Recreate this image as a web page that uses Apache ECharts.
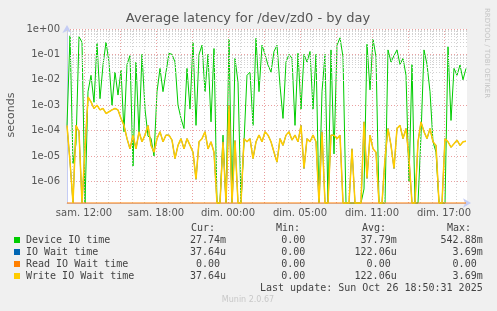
<!DOCTYPE html>
<html><head><meta charset="utf-8">
<script src="https://cdn.jsdelivr.net/npm/echarts@6/dist/echarts.min.js"></script>
<style>html,body{margin:0;padding:0;background:#f0f0f0;}#c{width:497px;height:311px;}</style>
</head><body><div id="c"></div>
<script>
// time of first sample, hours since Saturday 00:00 (elapsed real time), step 15 min
const T0 = 10 + 35 / 60;
const STEP = 0.25;
const SPAN = 400 / 12; // hours shown

const deviceIO = [
1.6e-4,0.54,5e-6,3e-5,0.5,0.3,0,3.4e-3,0.015,1.3e-3,
0.27,1.8e-3,0.038,0.3,0.05,1e-3,0.02,2.5e-3,0.024,9e-5,
0.04,0.09,4e-6,0.05,7e-5,0.1,7e-4,6e-5,5e-5,1e-5,
3.4e-3,0.028,3.4e-3,0.02,0.11,0.1,0.05,1e-3,3e-4,1.2e-4,
0.028,7e-4,0.3,1.6e-4,0.1,0.23,3.4e-3,0.1,2.2e-4,0.17,
0,0,6.6e-5,0,0.4,0,0.07,8e-3,0,3.6e-5,
0.015,0.02,1.6e-4,0.43,3.4e-3,0.23,0.1,0.038,0.02,0.13,
0.23,6e-3,3e-4,0.05,0.1,0.07,1.6e-4,0.11,7e-4,0.1,
0.05,0.13,7e-4,0.1,0,3.4e-3,0.1,0,0.15,1.2e-5,
0.23,0.45,0.08,0,0,0,0,0,0,5e-7,
0.25,4e-3,0.4,0.08,0,0,0,0.15,0.05,0.09,
0.15,0.04,0.07,0.015,1e-6,0.04,0,0,6.6e-5,0.15,
0.04,3.4e-3,3.6e-5,1.4e-5,0,0,0,0.2,2.5e-4,0.028,
0.015,0.038,0.01,0.028
];
const writeWait = [
1.6e-4,6e-6,0,1.6e-4,9e-5,0,1.9e-5,2.1e-3,1.35e-3,7.4e-4,
1e-3,6.5e-4,7.4e-4,4.7e-4,5.5e-4,6.5e-4,7.4e-4,6.5e-4,3e-4,1.6e-4,
4.8e-5,1.9e-5,6.6e-5,1.9e-5,9e-5,3.6e-5,6.6e-5,1.6e-4,2.6e-5,1.4e-5,
4.8e-5,9e-5,3.6e-5,6.6e-5,6.6e-5,4.2e-5,7.9e-6,2.6e-5,4.8e-5,1.9e-5,
4.8e-5,2.6e-5,1.4e-5,1.2e-6,3.6e-5,4.8e-5,9e-5,1.9e-5,3.6e-5,1.4e-5,
0,0,3.6e-5,0,1e-3,0,4e-5,0,0,4.8e-5,
3.6e-5,4.8e-5,7.9e-6,3.6e-5,6.6e-5,3.6e-5,9e-5,6.6e-5,3.6e-5,1.4e-5,
5.7e-6,4.8e-5,2.6e-5,6.6e-5,9e-5,4.2e-5,6.6e-5,3.6e-5,1.6e-4,3.2e-6,
4.8e-5,3.6e-5,6.6e-5,3.6e-5,0,9e-5,0,0,6.6e-5,6.6e-5,
4.8e-5,6.6e-5,0,0,0,1.9e-5,0,0,0,2.2e-4,
1.3e-6,6.6e-5,1.9e-5,1.4e-5,0,0,7.9e-6,1.2e-4,2.6e-5,3.2e-6,
1.2e-4,1.6e-4,4.8e-5,1.2e-4,7.9e-6,0,0,3.6e-5,2.2e-4,9e-5,
4.8e-5,1.2e-4,3.6e-5,2.6e-5,0,0,4.8e-5,3.6e-5,2.2e-5,3e-5,
4.2e-5,2.6e-5,3.6e-5,3.8e-5
];
const ioWait = writeWait.slice();           // identical to write wait in the source
const readWait = writeWait.map(() => 0);     // all zero (max 0.00)

const tickValues = [12, 18, 24, 30, 36, 42];
const tickLabels = ['sam. 12:00', 'sam. 18:00', 'dim. 00:00', 'dim. 05:00', 'dim. 11:00', 'dim. 17:00'];

const seriesNames = ['Device IO time', 'IO Wait time', 'Read IO Wait time', 'Write IO Wait time'];
const seriesColors = ['#00cc00', '#0066b3', '#ff8000', '#ffcc00'];
const curVals = ['27.74m', '37.64u', '0.00', '37.64u'];
const minVals = ['0.00', '0.00', '0.00', '0.00'];
const avgVals = ['37.79m', '122.06u', '0.00', '122.06u'];
const maxVals = ['542.88m', '3.69m', '0.00', '3.69m'];

const Y_MIN = 1.4e-7, Y_MAX = 1;

function toPairs(arr) {
  return arr.map((v, i) => [T0 + i * STEP, v > 0 ? v : Y_MIN]);
}

const chart = echarts.init(document.getElementById('c'), null, {renderer: 'canvas'});

// grid lines
const gridMarks = [];
for (let e = -7; e <= -1; e++) {
  for (let k = 2; k <= 9; k++) {
    const v = k * Math.pow(10, e);
    if (v > Y_MIN && v < Y_MAX) gridMarks.push({yAxis: v, lineStyle: {color: '#d2d2d2'}});
  }
}
for (let h = Math.ceil(T0); h < T0 + SPAN; h++) {
  gridMarks.push({xAxis: h, lineStyle: {color: h % 3 === 0 ? '#eaa0a0' : '#d2d2d2'}});
}

const MONO = '"DejaVu Sans Mono", monospace';
const SANS = '"DejaVu Sans", sans-serif';
const graphics = [];
function txt(t, x, y, opt) {
  graphics.push({type: 'text', x: x, y: y, rotation: opt.rot || 0, silent: true, z: 100,
    style: {text: t, fill: opt.fill || '#444', font: opt.font || ('10px ' + MONO),
      textAlign: opt.align || 'left', textVerticalAlign: 'middle'}});
}
txt('Average latency for /dev/zd0 - by day', 248, 19, {font: '13px ' + SANS, fill: '#555', align: 'center'});
txt('seconds', 11, 115, {font: '11px ' + SANS, fill: '#555', align: 'center', rot: Math.PI / 2});
txt('RRDTOOL / TOBI OETIKER', 487, 53, {font: '7px ' + SANS, fill: '#c4c4c4', align: 'center', rot: -Math.PI / 2});
txt('Cur:', 191, 228, {});
txt('Min:', 276, 228, {});
txt('Avg:', 362, 228, {});
txt('Max:', 447, 228, {});
const CH = 6.02;
function rt(v, edge) { return /[0-9]$/.test(v) ? edge - CH : edge; }
const rowY = [240, 252, 264, 276];
seriesNames.forEach((n, i) => {
  graphics.push({type: 'rect', shape: {x: 14, y: rowY[i] - 3, width: 6, height: 6}, style: {fill: seriesColors[i]}, silent: true, z: 100});
  txt(n, 26, rowY[i], {});
  txt(curVals[i], rt(curVals[i], 226), rowY[i], {align: 'right'});
  txt(minVals[i], rt(minVals[i], 311.3), rowY[i], {align: 'right'});
  txt(avgVals[i], rt(avgVals[i], 396.7), rowY[i], {align: 'right'});
  txt(maxVals[i], rt(maxVals[i], 482.7), rowY[i], {align: 'right'});
});
txt('Last update: Sun Oct 26 18:50:31 2025', 482.7, 288, {align: 'right'});
txt('Munin 2.0.67', 248, 300, {font: '8px ' + SANS, fill: '#c8c8c8', align: 'center'});

const axisBlue = '#c4ccf4';
const lineWidths = [1, 1, 1, 1.5];
const option = {
  animation: false,
  backgroundColor: '#f0f0f0',
  grid: {left: 67, top: 29, width: 400, height: 174, show: true, backgroundColor: '#ffffff', borderWidth: 0, containLabel: false, outerBoundsMode: 'none'},
  xAxis: {
    type: 'value', min: T0, max: T0 + SPAN,
    axisLine: {show: true, lineStyle: {color: axisBlue, width: 1}, symbol: ['none', 'arrow'], symbolSize: [7, 8], symbolOffset: [0, 4]},
    axisTick: {show: false},
    splitLine: {show: false},
    axisLabel: {
      customValues: tickValues, color: '#555', fontSize: 10, fontFamily: 'DejaVu Sans', margin: 5,
      formatter: v => { const i = tickValues.findIndex(t => Math.abs(t - v) < 1e-6); return i < 0 ? '' : tickLabels[i]; }
    }
  },
  yAxis: {
    type: 'log', logBase: 10, min: Y_MIN, max: Y_MAX,
    axisLine: {show: true, lineStyle: {color: axisBlue, width: 1}, symbol: ['none', 'arrow'], symbolSize: [7, 8], symbolOffset: [0, 4]},
    axisTick: {show: false},
    splitLine: {show: true, lineStyle: {color: '#eaa0a0', type: [1, 2], width: 1}},
    axisLabel: {
      color: '#555', fontSize: 10, fontFamily: 'DejaVu Sans', margin: 7,
      formatter: v => {
        const e = Math.log10(v), k = Math.round(e);
        if (Math.abs(e - k) > 1e-6) return '';
        return '1e' + (k < 0 ? '-' : '+') + String(Math.abs(k)).padStart(2, '0');
      }
    }
  },
  series: [
    {type: 'line', name: 'grid', data: [[T0, Y_MIN]], showSymbol: false, silent: true, z: 1,
      lineStyle: {opacity: 0},
      markLine: {silent: true, symbol: ['none', 'none'], animation: false, label: {show: false},
        lineStyle: {type: [1, 2], width: 1}, data: gridMarks}},
    ...seriesNames.map((n, i) => ({
      type: 'line', name: n,
      data: toPairs([deviceIO, ioWait, readWait, writeWait][i]),
      showSymbol: false, symbol: 'none', smooth: false, clip: false, z: 3 + i,
      lineStyle: {color: seriesColors[i], width: lineWidths[i]}
    }))
  ],
  graphic: graphics
};
chart.setOption(option);
</script></body></html>
